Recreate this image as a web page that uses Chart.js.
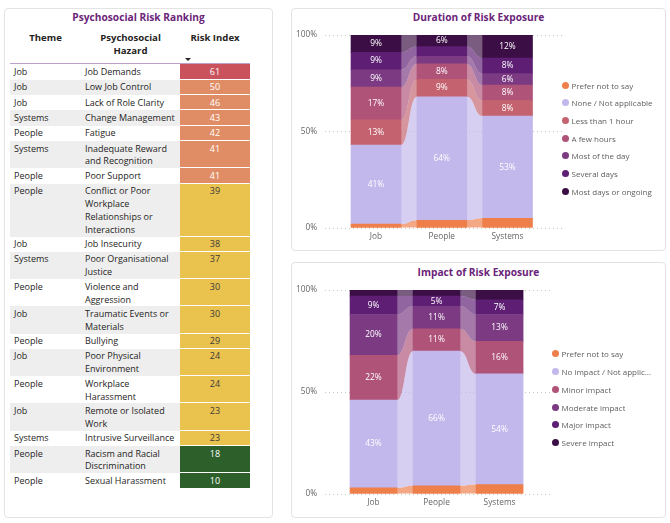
<!DOCTYPE html>
<html><head><meta charset="utf-8">
<script src="https://cdn.jsdelivr.net/npm/chart.js@4.4.1/dist/chart.umd.min.js"></script>
<style>
html,body{margin:0;padding:0;background:#fff;width:670px;height:523px;overflow:hidden;font-family:"Open Sans",sans-serif;color:#252423;}
.panel{position:absolute;background:#fff;border:1px solid #e3e3e3;border-radius:4px;box-sizing:border-box;}
.title{position:absolute;text-align:center;font-weight:bold;color:#6b2479;font-size:10.2px;line-height:14px;white-space:nowrap;}
.hdr{position:absolute;top:30.5px;text-align:center;font-weight:bold;font-size:9.6px;line-height:13px;color:#252423;white-space:pre-line;}
#tbl{position:absolute;left:10px;top:64.3px;width:240px;}
.row{display:flex;font-size:9px;line-height:12.86px;}
.row div{box-sizing:border-box;padding:1.5px 2px 0px 4px;}
.c1{width:71px;}
.c2{width:99px;}
.c3{width:70px;text-align:center;padding-left:2px !important;border-bottom:1px solid #fff;}
.legend{position:absolute;font-size:8px;color:#605e5c;}
.li{height:17.7px;display:flex;align-items:center;white-space:nowrap;}
.dot{width:7px;height:7px;border-radius:50%;margin-right:3px;flex:none;}
.lt{overflow:hidden;text-overflow:ellipsis;}
canvas{position:absolute;}
</style></head>
<body>
<div class="panel" style="left:4px;top:8px;width:269px;height:510px;"></div>
<div class="panel" style="left:291px;top:8px;width:375px;height:243px;"></div>
<div class="panel" style="left:291px;top:262px;width:375px;height:256px;"></div>

<div class="title" style="left:4px;width:269px;top:10px;">Psychosocial Risk Ranking</div>
<div id="hdrs"></div>
<div style="position:absolute;left:185px;top:57.5px;width:0;height:0;border-left:3px solid transparent;border-right:3px solid transparent;border-top:3.5px solid #252423;"></div>
<div style="position:absolute;left:10px;top:63px;width:240px;height:1.6px;background:#bd9fcc;"></div>
<div id="tbl"></div>

<div class="title" style="left:291px;width:375px;top:10px;">Duration of Risk Exposure</div>
<canvas id="dur" width="375" height="243" style="left:291px;top:8px;width:375px;height:243px;"></canvas>
<div class="legend" id="durLegend" style="left:561.5px;top:76.2px;width:100px;"></div>

<div class="title" style="left:291px;width:375px;top:265px;">Impact of Risk Exposure</div>
<canvas id="imp" width="375" height="255" style="left:291px;top:262px;width:375px;height:255px;"></canvas>
<div class="legend" id="impLegend" style="left:551.5px;top:345.1px;width:103px;"></div>

<script>
// ---------- Table data ----------
const tableHeaders = ['Theme', 'Psychosocial\nHazard', 'Risk Index'];
const themes = ['Job','Job','Job','Systems','People','Systems','People','People','Job','Systems','People','Job','People','Job','People','Job','Systems','People','People'];
const hazards = ['Job Demands','Low Job Control','Lack of Role Clarity','Change Management','Fatigue','Inadequate Reward and Recognition','Poor Support','Conflict or Poor Workplace Relationships or Interactions','Job Insecurity','Poor Organisational Justice','Violence and Aggression','Traumatic Events or Materials','Bullying','Poor Physical Environment','Workplace Harassment','Remote or Isolated Work','Intrusive Surveillance','Racism and Racial Discrimination','Sexual Harassment'];
const riskIndex = [61,50,46,43,42,41,41,39,38,37,30,30,29,24,24,23,23,18,10];

// ---------- Duration chart data (percent of respondents) ----------
const durationCategories = ['Job','People','Systems'];
const durationSeries = ['Prefer not to say','None / Not applicable','Less than 1 hour','A few hours','Most of the day','Several days','Most days or ongoing'];
const durPreferNot   = [2, 4, 5];
const durNone        = [41, 64, 53];
const durLessThan1h  = [13, 9, 8];
const durFewHours    = [17, 8, 8];
const durMostOfDay   = [9, 4, 6];
const durSeveralDays = [9, 5, 8];
const durMostDays    = [9, 6, 12];

// ---------- Impact chart data ----------
const impactCategories = ['Job','People','Systems'];
const impactSeries = ['Prefer not to say','No impact / Not applicable','Minor impact','Moderate impact','Major impact','Severe impact'];
const impPreferNot = [3, 4, 4.6];
const impNone      = [43, 66, 54.3];
const impMinor     = [22, 11, 15.9];
const impModerate  = [20, 11, 13.2];
const impMajor     = [9, 5, 7.2];
const impSevere    = [3, 3, 4.8];

const yTicks = [0, 50, 100];

// ---------- Styles ----------
const durationColors = ['#ee7e4a','#c3b8ec','#c4636f','#b05379','#7b3a82','#5d1e73','#3b0f45'];
const impactColors   = ['#ee7e4a','#c3b8ec','#b05379','#7b3a82','#5d1e73','#3b0f45'];
function riskColor(v){ return v>=60 ? '#c9525c' : v>=40 ? '#e08d66' : v>=20 ? '#eac24e' : '#2d5f2a'; }
function riskText(v){ return (v>=20 && v<40) ? '#3a3a3a' : '#ffffff'; }

// ---------- Build table ----------
const hdrX = [[10,71],[81,99],[180,70]];
document.getElementById('hdrs').innerHTML = tableHeaders.map((h,i)=>
  `<div class="hdr" style="left:${hdrX[i][0]}px;width:${hdrX[i][1]}px;">${h}</div>`).join('');
document.getElementById('tbl').innerHTML = hazards.map((hz,i)=>{
  const bg = i%2 ? '#eeeeee' : '#ffffff';
  return `<div class="row"><div class="c1" style="background:${bg}">${themes[i]}</div>`+
    `<div class="c2" style="background:${bg}">${hz}</div>`+
    `<div class="c3" style="background:${riskColor(riskIndex[i])};color:${riskText(riskIndex[i])}">${riskIndex[i]}</div></div>`;
}).join('');

// ---------- Legends ----------
function buildLegend(id, names, colors){
  document.getElementById(id).innerHTML = names.map((n,i)=>
    `<div class="li"><span class="dot" style="background:${colors[i]}"></span><span class="lt">${n}</span></div>`).join('');
}
buildLegend('durLegend', durationSeries, durationColors);
buildLegend('impLegend', impactSeries, impactColors);

// ---------- Plugins ----------
const ribbonPlugin = {
  id: 'ribbons',
  beforeDatasetsDraw(chart){
    const ctx = chart.ctx;
    chart.data.datasets.forEach((ds, i)=>{
      const els = chart.getDatasetMeta(i).data;
      ctx.save();
      ctx.globalAlpha = 0.68;
      ctx.fillStyle = ds.backgroundColor;
      for (let j=0; j<els.length-1; j++){
        const a = els[j].getProps(['x','y','base','width'], true);
        const b = els[j+1].getProps(['x','y','base','width'], true);
        const ax = a.x + a.width/2, bx = b.x - b.width/2, mx = (ax+bx)/2;
        ctx.beginPath();
        ctx.moveTo(ax, a.y);
        ctx.bezierCurveTo(mx, a.y, mx, b.y, bx, b.y);
        ctx.lineTo(bx, b.base);
        ctx.bezierCurveTo(mx, b.base, mx, a.base, ax, a.base);
        ctx.closePath();
        ctx.fill();
      }
      ctx.restore();
    });
  }
};
const segLabelPlugin = {
  id: 'segLabels',
  afterDatasetsDraw(chart, args, opts){
    const ctx = chart.ctx;
    ctx.save();
    ctx.font = '8.4px "Open Sans"';
    ctx.fillStyle = '#ffffff';
    ctx.textAlign = 'center';
    ctx.textBaseline = 'middle';
    chart.data.datasets.forEach((ds, i)=>{
      chart.getDatasetMeta(i).data.forEach((el, j)=>{
        const v = ds.data[j].y;
        if (v < opts.min) return;
        const p = el.getProps(['x','y','base'], true);
        ctx.fillText(Math.round(v) + '%', p.x, (p.y + p.base)/2);
      });
    });
    ctx.restore();
  }
};

// ---------- Charts ----------
function makeChart(id, cats, names, series, colors, cfg){
  return new Chart(document.getElementById(id), {
    type: 'bar',
    data: {
      datasets: series.map((vals, i)=>({
        label: names[i],
        data: vals.map((v, j)=>({x: j, y: v})),
        backgroundColor: colors[i],
        borderWidth: 0,
        barThickness: cfg.barThickness
      }))
    },
    options: {
      responsive: false,
      animation: false,
      devicePixelRatio: 1,
      layout: { padding: { top: cfg.top, right: cfg.right, bottom: 0, left: 0 } },
      plugins: { legend: { display: false }, tooltip: { enabled: false }, title: { display: false },
                 segLabels: { min: cfg.minLabel } },
      scales: {
        x: {
          type: 'linear', stacked: true, offset: false, min: cfg.xMin, max: cfg.xMax,
          grid: { display: false, drawTicks: false }, border: { display: false },
          afterBuildTicks: s => { s.ticks = cats.map((c, j)=>({ value: j })); },
          afterFit: s => { s.height = 23; },
          ticks: { padding: 4, color: '#666666', font: { family: 'Open Sans', size: 8.3 },
                   autoSkip: false, maxRotation: 0, callback: v => cats[v] }
        },
        y: {
          stacked: true, min: 0, max: 100,
          afterBuildTicks: s => { s.ticks = yTicks.map(v=>({ value: v })); },
          afterFit: s => { s.width = 34; },
          grid: { color: '#c8c8c8', drawTicks: false, lineWidth: 1 },
          border: { display: false, dash: [1, 3] },
          ticks: { padding: 8, color: '#666666', font: { family: 'Open Sans', size: 8.3 },
                   callback: v => v + '%' }
        }
      }
    },
    plugins: [ribbonPlugin, segLabelPlugin]
  });
}

makeChart('dur', durationCategories, durationSeries,
  [durPreferNot, durNone, durLessThan1h, durFewHours, durMostOfDay, durSeveralDays, durMostDays],
  durationColors, { barThickness: 50, xMin: -0.776, xMax: 2.829, top: 27, right: 104, minLabel: 6 });

makeChart('imp', impactCategories, impactSeries,
  [impPreferNot, impNone, impMinor, impModerate, impMajor, impSevere],
  impactColors, { barThickness: 47, xMin: -0.77, xMax: 2.80, top: 28, right: 116, minLabel: 5 });
</script>
</body></html>
